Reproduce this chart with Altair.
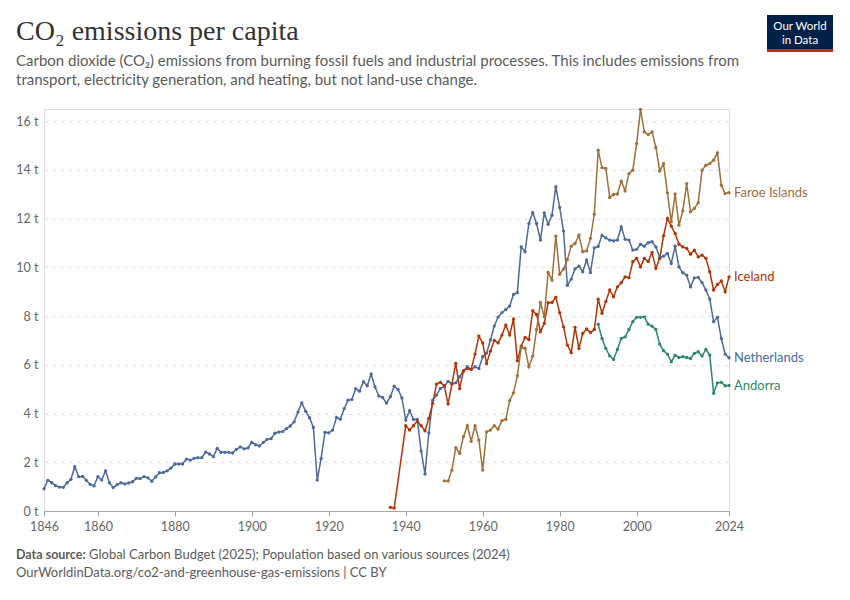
import altair as alt
import pandas as pd

# ---------------- data ----------------
nl_years = list(range(1846, 2025))
nl_values = [
    0.91, 1.26, 1.16, 1.04, 0.98, 0.97, 1.16, 1.30, 1.82, 1.41,   # 1846-1855
    1.42, 1.26, 1.09, 1.03, 1.41, 1.27, 1.65, 1.16, 0.96, 1.08,   # 1856-1865
    1.16, 1.11, 1.15, 1.20, 1.34, 1.33, 1.41, 1.36, 1.22, 1.40,   # 1866-1875
    1.57, 1.58, 1.65, 1.76, 1.93, 1.93, 1.93, 2.13, 2.09, 2.16,   # 1876-1885
    2.19, 2.19, 2.42, 2.34, 2.23, 2.57, 2.41, 2.41, 2.41, 2.38,   # 1886-1895
    2.53, 2.63, 2.55, 2.59, 2.82, 2.72, 2.67, 2.82, 2.94, 2.97,   # 1896-1905
    3.19, 3.24, 3.26, 3.38, 3.49, 3.66, 4.06, 4.44, 4.09, 3.83,   # 1906-1915
    3.43, 1.27, 2.15, 3.23, 3.21, 3.32, 3.84, 3.77, 4.20, 4.55,   # 1916-1925
    4.58, 5.02, 4.92, 5.31, 5.14, 5.62, 5.10, 4.72, 4.66, 4.43,   # 1926-1935
    4.69, 5.12, 4.99, 4.64, 3.73, 4.12, 3.76, 3.76, 2.46, 1.52,   # 1936-1945
    3.21, 4.55, 4.76, 5.03, 5.10, 5.32, 5.22, 5.26, 5.51, 5.76,   # 1946-1955
    5.92, 5.81, 5.92, 5.85, 6.33, 6.48, 7.02, 7.59, 7.96, 8.14,   # 1956-1965
    8.27, 8.41, 8.89, 8.96, 10.84, 10.64, 11.80, 12.25, 11.80, 11.12,  # 1966-1975
    12.24, 11.77, 12.14, 13.31, 12.46, 11.49, 9.27, 9.52, 9.94, 10.05,  # 1976-1985
    9.82, 10.30, 9.79, 10.80, 10.86, 11.31, 11.21, 11.12, 11.09, 11.12,  # 1986-1995
    11.66, 11.15, 11.12, 10.71, 10.74, 10.95, 10.87, 11.01, 11.05, 10.84,  # 1996-2005
    10.41, 10.46, 10.57, 10.16, 10.87, 10.02, 9.78, 9.68, 9.20, 9.57,   # 2006-2015
    9.59, 9.37, 9.07, 8.70, 7.77, 7.95, 7.08, 6.44, 6.29,              # 2016-2024
]

is_years = [1936, 1937] + list(range(1940, 2025))
is_values = [
    0.15, 0.12,
    3.50, 3.32, 3.50, 3.69, 3.50, 3.29, 3.80, 4.42, 5.21, 5.28,   # 1940-1949
    5.14, 4.39, 5.21, 6.06, 5.02, 5.74, 5.85, 5.81, 6.44, 7.18,   # 1950-1959
    6.90, 6.05, 6.56, 7.00, 6.90, 7.22, 7.63, 7.22, 7.88, 6.17,   # 1960-1969
    6.77, 7.12, 7.04, 8.22, 8.07, 7.36, 7.70, 8.55, 8.56, 8.77,   # 1970-1979
    8.14, 7.56, 6.81, 6.50, 7.54, 6.67, 7.29, 7.47, 7.33, 7.45,   # 1980-1989
    8.69, 8.12, 8.60, 9.07, 8.79, 9.20, 9.37, 9.61, 9.57, 10.23,  # 1990-1999
    10.37, 10.02, 10.37, 10.24, 10.61, 9.96, 10.37, 11.30, 12.01, 11.69,  # 2000-2009
    11.39, 10.95, 10.84, 10.78, 10.54, 10.71, 10.43, 10.50, 10.37, 9.82,  # 2010-2019
    9.07, 9.30, 9.44, 9.00, 9.61,                                 # 2020-2024
]

fo_years = list(range(1950, 2025))
fo_values = [
    1.24, 1.23, 1.68, 2.60, 2.37, 3.05, 3.50, 2.86, 3.50, 2.91,   # 1950-1959
    1.68, 3.25, 3.32, 3.50, 3.36, 3.71, 3.76, 4.53, 4.85, 5.55,   # 1960-1969
    6.71, 6.68, 5.92, 6.36, 7.45, 8.56, 7.97, 9.79, 9.48, 11.28,  # 1970-1979
    9.72, 9.93, 10.32, 10.87, 10.98, 11.32, 10.64, 10.68, 11.19, 12.18,  # 1980-1989
    14.81, 14.09, 14.06, 12.87, 12.99, 13.01, 13.54, 13.14, 13.85, 13.99,  # 1990-1999
    15.08, 16.48, 15.56, 15.45, 15.56, 14.92, 13.96, 14.26, 13.06, 11.87,  # 2000-2009
    13.01, 11.73, 12.32, 13.44, 12.28, 12.42, 12.65, 13.99, 14.19, 14.26,  # 2010-2019
    14.40, 14.70, 13.37, 13.03, 13.07,                            # 2020-2024
]

ad_years = list(range(1990, 2025))
ad_values = [
    7.67, 7.08, 6.67, 6.37, 6.22, 6.63, 7.08, 7.15, 7.45, 7.77,   # 1990-1999
    7.95, 7.95, 7.97, 7.67, 7.59, 7.45, 6.85, 6.58, 6.44, 6.13,   # 2000-2009
    6.39, 6.30, 6.33, 6.30, 6.26, 6.47, 6.54, 6.36, 6.63, 6.40,   # 2010-2019
    4.83, 5.26, 5.28, 5.14, 5.15,                                 # 2020-2024
]

countries = ["Netherlands", "Iceland", "Faroe Islands", "Andorra"]
colors = ["#4C6A9C", "#B13507", "#A0703A", "#2E8866"]
x_ticks = [1846, 1860, 1880, 1900, 1920, 1940, 1960, 1980, 2000, 2024]
y_ticks = [0, 2, 4, 6, 8, 10, 12, 14, 16]

title_text = "CO₂ emissions per capita"
subtitle_1 = ("Carbon dioxide (CO₂) emissions from burning fossil fuels and industrial processes. "
              "This includes emissions from")
subtitle_2 = "transport, electricity generation, and heating, but not land-use change."
source_bold = "Data source:"
source_text = "Global Carbon Budget (2025); Population based on various sources (2024)"
url_text = "OurWorldinData.org/co2-and-greenhouse-gas-emissions | CC BY"

# ---------------- tables ----------------
frames = []
for name, yrs, vals in [("Netherlands", nl_years, nl_values),
                        ("Iceland", is_years, is_values),
                        ("Faroe Islands", fo_years, fo_values),
                        ("Andorra", ad_years, ad_values)]:
    frames.append(pd.DataFrame({"country": name, "year": yrs, "value": vals}))
df = pd.concat(frames, ignore_index=True)
last = df.sort_values("year").groupby("country").tail(1)

FONT = "Lato"
W, H = 685, 402

xscale = alt.Scale(domain=[1846, 2024], nice=False, zero=False)
yscale = alt.Scale(domain=[0, 16.5], nice=False)
cscale = alt.Scale(domain=countries, range=colors)

lines = alt.Chart(df).mark_line(
    strokeWidth=1.5,
    point=alt.OverlayMarkDef(size=11, filled=True, opacity=1),
).encode(
    x=alt.X("year:Q", scale=xscale, title=None,
            axis=alt.Axis(values=x_ticks, format="d", grid=False,
                          domainColor="#a6a6a6", tickColor="#a6a6a6", tickSize=5,
                          labelColor="#666666", labelFontSize=12.5, labelFont=FONT,
                          labelPadding=4, labelFlush=False, labelOverlap=False)),
    y=alt.Y("value:Q", scale=yscale, title=None,
            axis=alt.Axis(values=y_ticks, labelExpr="datum.value + ' t'",
                          domain=False, ticks=False, grid=True,
                          gridColor="#dddddd", gridDash=[4, 4], gridWidth=1,
                          labelColor="#666666", labelFontSize=12.5, labelFont=FONT,
                          labelPadding=6)),
    color=alt.Color("country:N", scale=cscale, legend=None),
    detail="country:N",
)

labels = alt.Chart(last).mark_text(
    align="left", baseline="middle", dx=5, fontSize=13, font=FONT
).encode(
    x=alt.X("year:Q", scale=xscale),
    y=alt.Y("value:Q", scale=yscale),
    text="country:N",
    color=alt.Color("country:N", scale=cscale, legend=None),
)

one = pd.DataFrame({"k": [0]})

def txt(s, x, y, size, color, font=FONT, weight="normal", align="left"):
    return alt.Chart(one).mark_text(
        align=align, baseline="alphabetic", fontSize=size, font=font,
        fontWeight=weight, color=color
    ).encode(x=alt.value(x), y=alt.value(y), text=alt.value(s))

# plot origin on the page is (44, 109)
OX, OY = 44, 109
title = txt(title_text, 16 - OX, 40 - OY, 28, "#333333", font="Liberation Serif")
sub1 = txt(subtitle_1, 16 - OX, 66 - OY, 15, "#5b5b5b")
sub2 = txt(subtitle_2, 16 - OX, 85 - OY, 15, "#5b5b5b")
src_b = txt(source_bold, 16 - OX, 559 - OY, 12.5, "#5b5b5b", weight="bold")
src = txt(source_text, 89 - OX, 559 - OY, 13, "#5b5b5b")
url = txt(url_text, 16 - OX, 577 - OY, 13, "#5b5b5b")

logo_box = alt.Chart(one).mark_rect(color="#002147").encode(
    x=alt.value(767 - OX), x2=alt.value(833 - OX),
    y=alt.value(15 - OY), y2=alt.value(49 - OY))
logo_red = alt.Chart(one).mark_rect(color="#CE261E").encode(
    x=alt.value(767 - OX), x2=alt.value(833 - OX),
    y=alt.value(49 - OY), y2=alt.value(52 - OY))
logo_t1 = txt("Our World", 800 - OX, 29.5 - OY, 11.5, "#ffffff", align="center")
logo_t2 = txt("in Data", 800 - OX, 43.5 - OY, 11.5, "#ffffff", align="center")

chart = alt.layer(
    lines, labels, title, sub1, sub2, src_b, src, url,
    logo_box, logo_red, logo_t1, logo_t2
).properties(
    width=W, height=H,
    autosize=alt.AutoSizeParams(type="none"),
    padding={"left": 36, "top": 101, "right": 113, "bottom": 75},
).configure_view(stroke=None).configure(background="#ffffff")

chart.save("out.html", embed_options={"renderer": "svg", "actions": False})
